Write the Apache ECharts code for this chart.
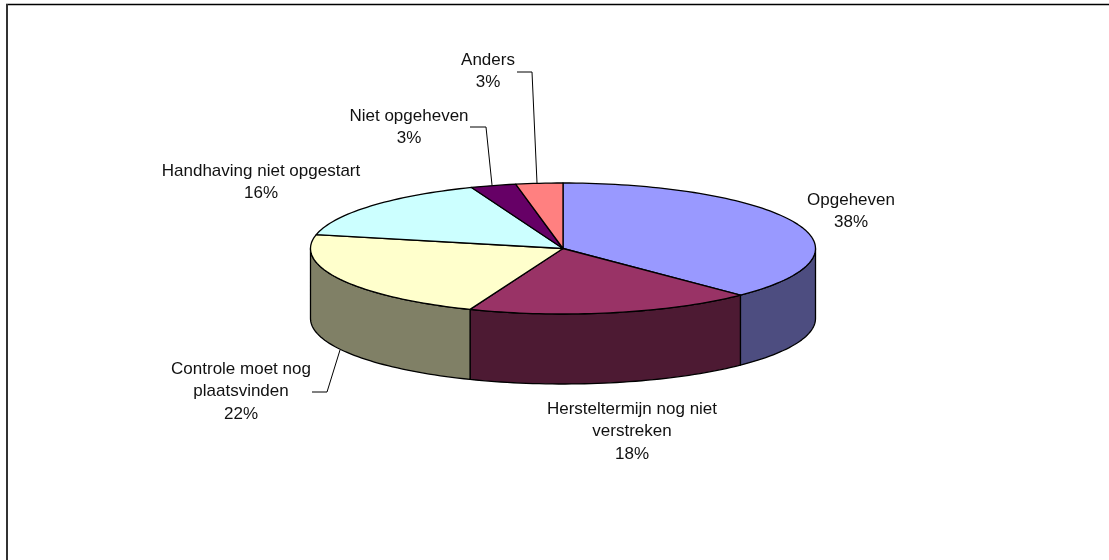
<!DOCTYPE html>
<html>
<head>
<meta charset="utf-8">
<title>Pie</title>
<script src="https://cdn.jsdelivr.net/npm/echarts@6/dist/echarts.min.js"></script>
<style>
  html, body { margin: 0; padding: 0; background: #fff; }
  #chart { width: 1109px; height: 560px; }
</style>
</head>
<body>
<div id="chart"></div>
<script>
// data
const categories = ['Opgeheven', 'Hersteltermijn nog niet\nverstreken', 'Controle moet nog\nplaatsvinden', 'Handhaving niet opgestart', 'Niet opgeheven', 'Anders']
const values = [37.6, 18.4, 22.4, 15.7, 2.9, 3.0]
const topColors = ['#9999FF', '#993366', '#FFFFCC', '#CCFFFF', '#660066', '#FF8080']
const sideColors = ['#4D4D80', '#4D1A33', '#808066', '#668080', '#330033', '#804040']

// label anchor: centre x, top y of text block
const labelPos = [[851, 189], [632, 398], [241, 358], [261, 160], [409, 105], [488, 49]]
// leader lines, only where the label sits away from the pie
const leaders = [null, null,
  [[312, 392], [327, 392], [340, 350]],
  null,
  [[470, 127], [486, 127], [492, 185]],
  [[517, 72], [532, 72], [537, 183]]]

// pie geometry
const cx = 563, cy = 248.5, rx = 252.5, ry = 65.5, depth = 70
const total = values.reduce((a, b) => a + b, 0)

// angle in degrees clockwise from the top of the ellipse
const rim = (deg, dy) => {
  const r = deg * Math.PI / 180
  return [cx + rx * Math.sin(r), cy - ry * Math.cos(r) + (dy || 0)]
}
const arc = (from, to, dy) => {
  const pts = []
  const n = Math.max(2, Math.ceil(Math.abs(to - from) / 1.5))
  for (let i = 0; i <= n; i++) pts.push(rim(from + (to - from) * i / n, dy))
  return pts
}

let starts = []
let acc = 0
values.forEach(v => { starts.push(acc); acc += v })

const lineStyle = { stroke: '#000', lineWidth: 1.3, lineJoin: 'round' }

const renderSlice = (params) => {
  const i = params.dataIndex
  const a0 = starts[i] / total * 360
  const a1 = (starts[i] + values[i]) / total * 360
  const children = []

  // front wall only between 90 and 270 degrees
  const w0 = Math.max(a0, 90), w1 = Math.min(a1, 270)
  if (w1 > w0) {
    children.push({
      type: 'polygon',
      shape: { points: arc(w0, w1, 0).concat(arc(w1, w0, depth)) },
      style: Object.assign({ fill: sideColors[i] }, lineStyle)
    })
  }
  // top face
  children.push({
    type: 'polygon',
    shape: { points: [[cx, cy]].concat(arc(a0, a1, 0)) },
    style: Object.assign({ fill: topColors[i] }, lineStyle)
  })
  // leader line
  if (leaders[i]) {
    children.push({
      type: 'polyline',
      shape: { points: leaders[i] },
      style: { stroke: '#000', lineWidth: 1, fill: null }
    })
  }
  // label
  children.push({
    type: 'text',
    x: labelPos[i][0],
    y: labelPos[i][1],
    style: {
      text: categories[i] + '\n' + Math.round(values[i]) + '%',
      font: '17px "Liberation Sans", Arial, sans-serif',
      fill: '#111',
      align: 'center',
      verticalAlign: 'top',
      lineHeight: 22.5
    }
  })
  return { type: 'group', children }
}

const chart = echarts.init(document.getElementById('chart'), null, { renderer: 'canvas' })
chart.setOption({
  animation: false,
  backgroundColor: '#fff',
  tooltip: { show: false },
  // the frame only shows on the top and left, it is cut off on the other sides
  graphic: [{
    type: 'line',
    shape: { x1: 6, y1: 4.5, x2: 1109, y2: 4.5 },
    style: { stroke: '#000', lineWidth: 1.5 },
    silent: true
  }, {
    type: 'line',
    shape: { x1: 7, y1: 4, x2: 7, y2: 560 },
    style: { stroke: '#333', lineWidth: 2 },
    silent: true
  }],
  series: [{
    type: 'custom',
    coordinateSystem: 'none',
    silent: true,
    renderItem: renderSlice,
    data: values
  }]
})
window.addEventListener('resize', () => chart.resize())
</script>
</body>
</html>
